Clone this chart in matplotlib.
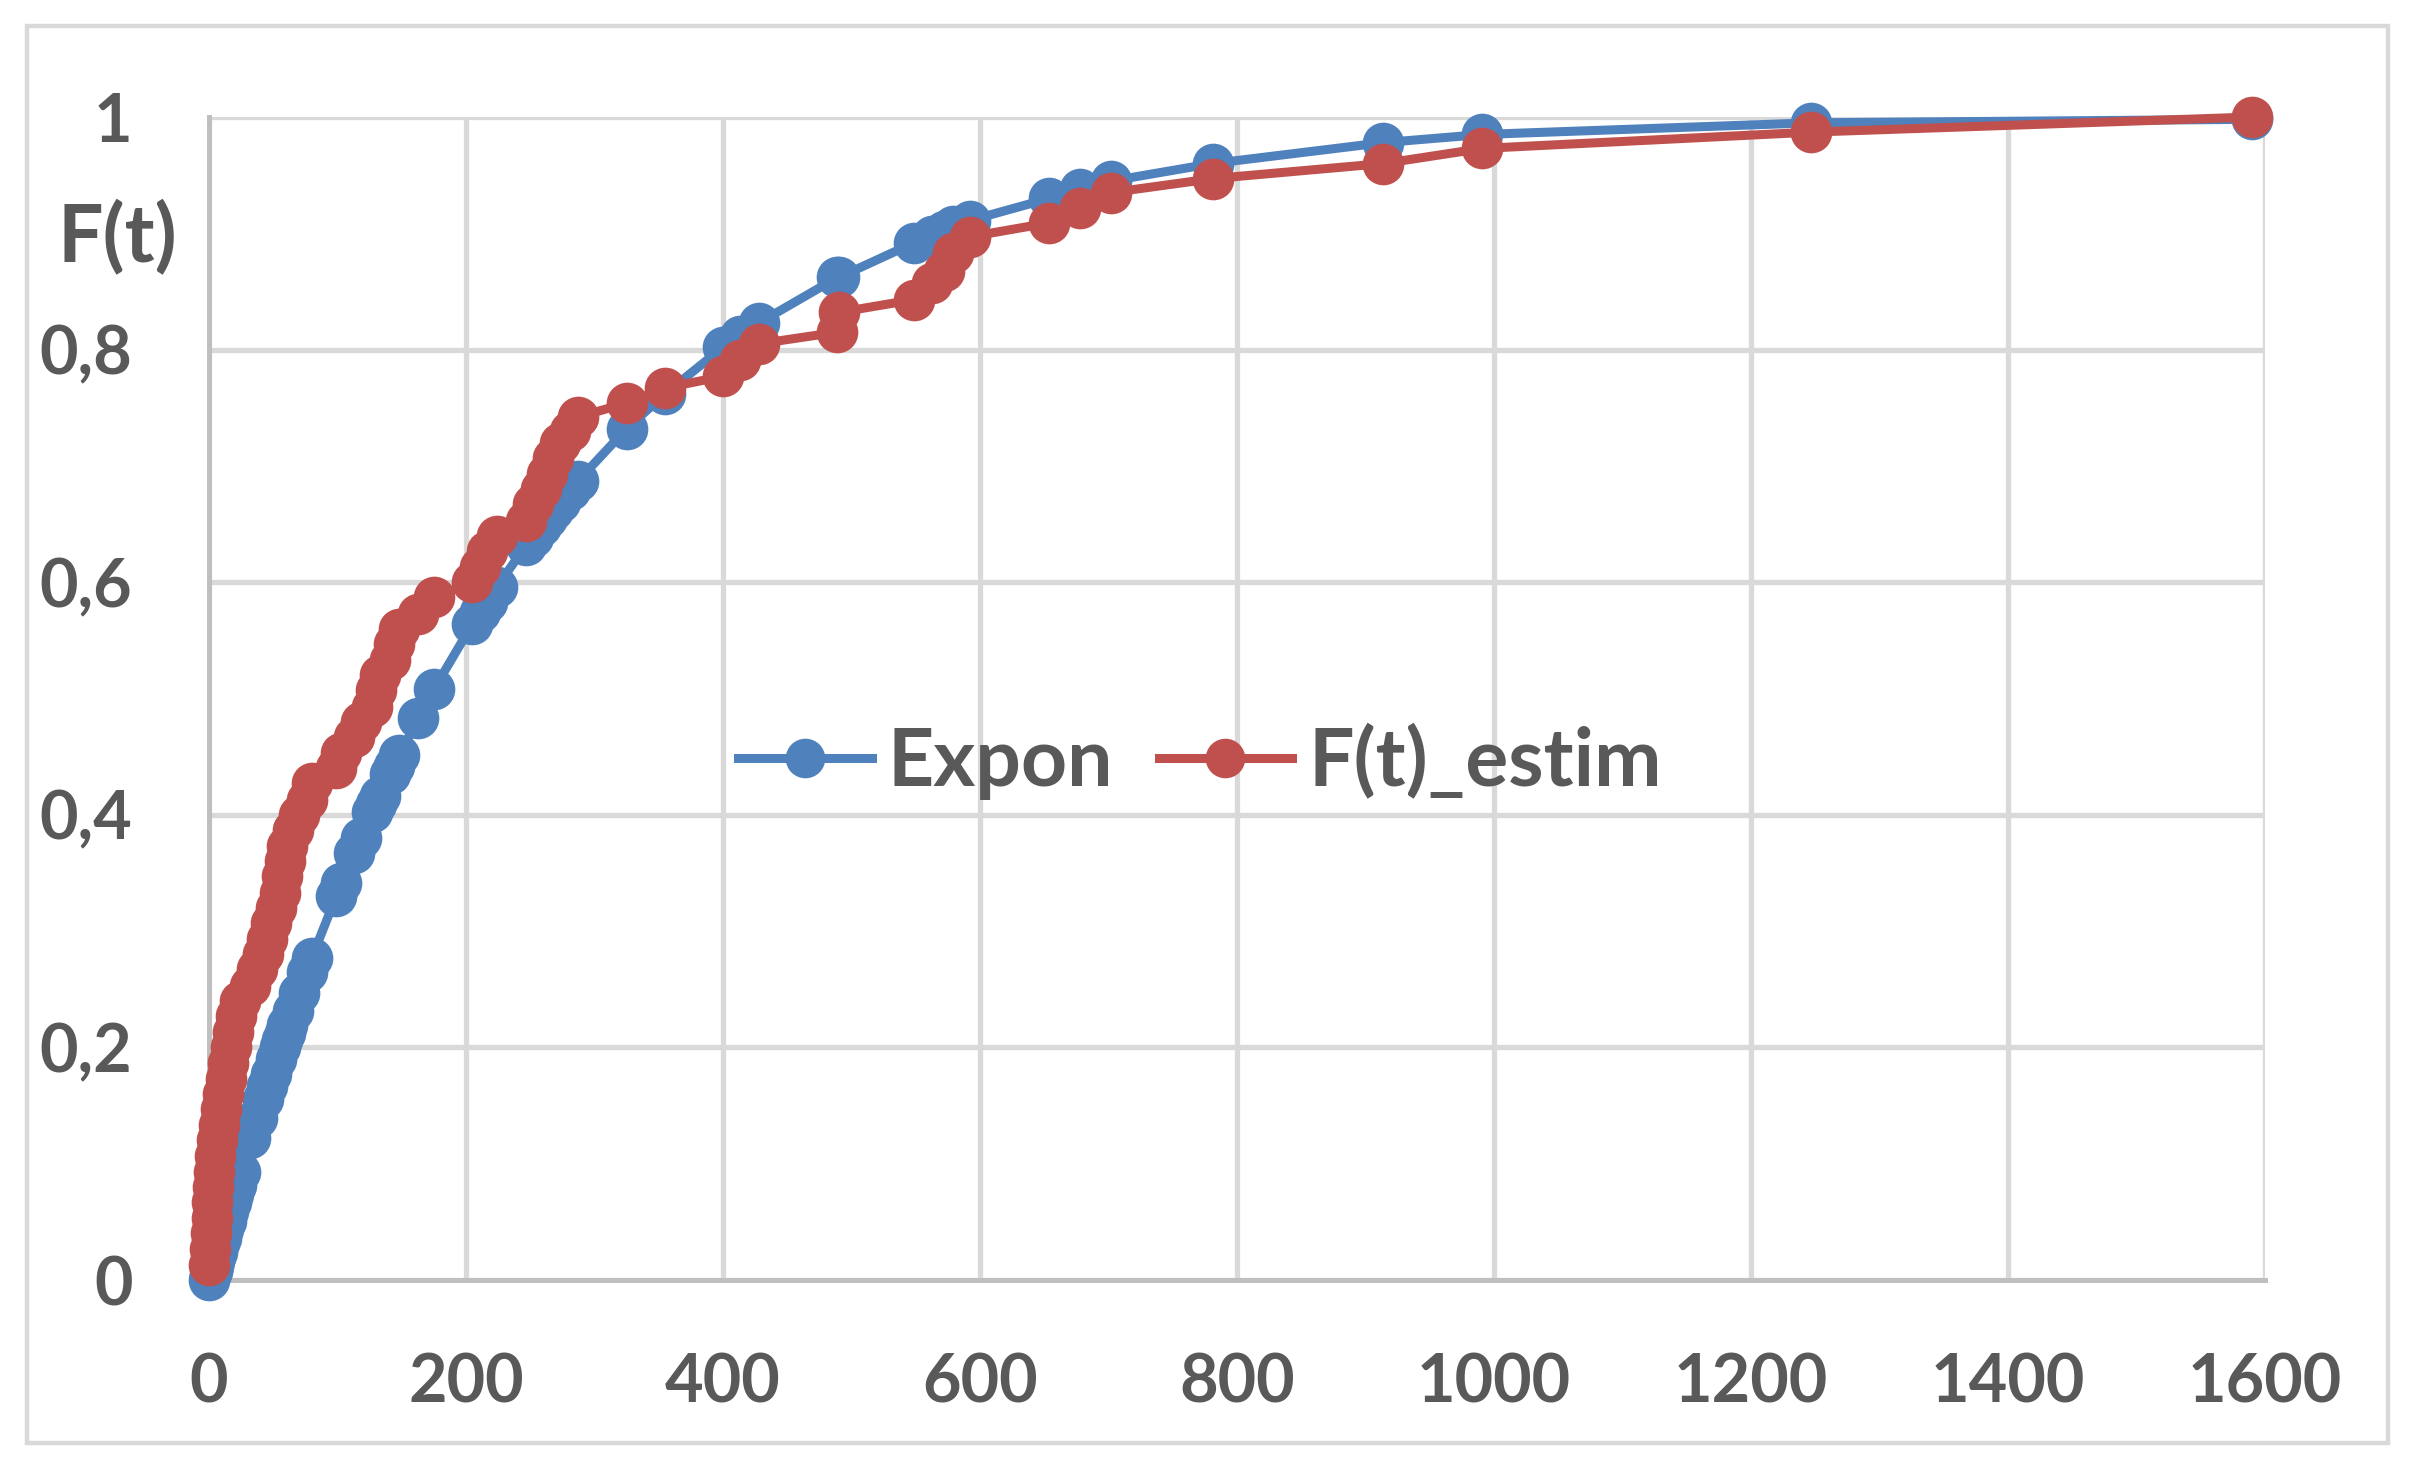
# Packages
# ======================================================
import matplotlib.pyplot as plt
from matplotlib.patches import Rectangle

# Data
# ======================================================
t = [0, 1, 1.5, 2, 2.5, 3, 4, 5, 6, 8,
     9, 11, 13, 15, 17, 19, 21, 24, 32, 37,
     42, 45, 48, 52, 55, 57, 59, 61, 65, 70,
     76, 80, 99, 103, 113, 118, 127, 130, 133, 141,
     144, 148, 163, 175, 205, 211, 216, 224, 247, 252,
     258, 263, 268, 273, 281, 287, 325, 355, 400, 413,
     428, 489, 490, 549, 563, 572, 579, 592, 654, 678,
     702, 781, 914, 991, 1247, 1590]

expon = [0.000, 0.004, 0.006, 0.008, 0.010, 0.012, 0.016, 0.020, 0.024, 0.032,
         0.036, 0.044, 0.051, 0.059, 0.067, 0.074, 0.082, 0.093, 0.122, 0.139,
         0.156, 0.167, 0.177, 0.190, 0.200, 0.206, 0.212, 0.219, 0.231, 0.247,
         0.265, 0.277, 0.330, 0.341, 0.367, 0.380, 0.402, 0.409, 0.416, 0.435,
         0.442, 0.451, 0.483, 0.508, 0.564, 0.574, 0.583, 0.596, 0.632, 0.639,
         0.648, 0.655, 0.662, 0.669, 0.679, 0.687, 0.732, 0.762, 0.802, 0.812,
         0.823, 0.862, 0.862, 0.892, 0.898, 0.902, 0.906, 0.911, 0.930, 0.938,
         0.945, 0.960, 0.978, 0.985, 0.995, 0.998]

f_estim = [0.013, 0.027, 0.040, 0.053, 0.067, 0.080, 0.093, 0.107, 0.120, 0.133,
           0.147, 0.160, 0.173, 0.187, 0.200, 0.213, 0.227, 0.240, 0.253, 0.267,
           0.280, 0.293, 0.307, 0.320, 0.333, 0.347, 0.360, 0.373, 0.387, 0.400,
           0.413, 0.427, 0.440, 0.453, 0.467, 0.480, 0.493, 0.507, 0.520, 0.533,
           0.547, 0.560, 0.573, 0.587, 0.600, 0.613, 0.627, 0.640, 0.653, 0.667,
           0.680, 0.693, 0.707, 0.720, 0.730, 0.742, 0.754, 0.767, 0.777, 0.791,
           0.805, 0.815, 0.832, 0.843, 0.857, 0.868, 0.883, 0.897, 0.909, 0.922,
           0.935, 0.947, 0.960, 0.973, 0.987, 1.000]

X_TICKS = [0, 200, 400, 600, 800, 1000, 1200, 1400, 1600]
Y_TICKS = [0, 0.2, 0.4, 0.6, 0.8, 1]
Y_LABELS = ['0', '0,2', '0,4', '0,6', '0,8', '1']

# Style
# ======================================================
BLUE = '#4F81BD'
RED = '#C0504D'
TEXT = '#595959'
GRID = '#D9D9D9'
AXIS = '#BFBFBF'

plt.rcParams['font.family'] = 'Lato'
plt.rcParams['font.weight'] = 'bold'

W, H = 2409, 1469
fig = plt.figure(figsize=(W / 100, H / 100), dpi=100)

# outer chart border
fig.patches.append(Rectangle((27 / W, 1 - 1443 / H), (2388 - 27) / W, (1443 - 26) / H,
                             transform=fig.transFigure, fill=False,
                             edgecolor=GRID, linewidth=3.2))

ax = fig.add_axes([209 / W, 1 - 1280 / H, (2265 - 209) / W, (1280 - 117) / H])

ax.plot(t, expon, color=BLUE, linewidth=6.5, marker='o', markersize=30,
        markeredgewidth=0, label='Expon', clip_on=False, zorder=3)
ax.plot(t, f_estim, color=RED, linewidth=6.5, marker='o', markersize=30,
        markeredgewidth=0, label='F(t)_estim', clip_on=False, zorder=4)

ax.set_xlim(0, 1600)
ax.set_ylim(0, 1)
ax.set_xticks(X_TICKS)
ax.set_yticks(Y_TICKS)
ax.set_yticklabels(Y_LABELS)
ax.tick_params(axis='both', length=0, labelsize=48, labelcolor=TEXT)
ax.tick_params(axis='x', pad=52)
ax.tick_params(axis='y', pad=55)

ax.grid(True, color=GRID, linewidth=3.8, zorder=0)
ax.set_axisbelow(True)
for side in ['top', 'right']:
    ax.spines[side].set_visible(False)
for side in ['left', 'bottom']:
    ax.spines[side].set_color(AXIS)
    ax.spines[side].set_linewidth(3.6)

# y label placed like the original, horizontal above the ticks
fig.text(117 / W, 1 - 238 / H, 'F(t)', fontsize=58, fontweight='bold',
         color=TEXT, ha='center', va='center')

leg = ax.legend(loc='center', bbox_to_anchor=(1200 / W, 1 - 762 / H),
                bbox_transform=fig.transFigure, ncol=2, frameon=False,
                fontsize=58, handlelength=1.66, handletextpad=0.2,
                columnspacing=0.56, borderpad=0, markerscale=0.95)
for txt in leg.get_texts():
    txt.set_color(TEXT)

fig.savefig('out.png', dpi=100)
plt.close()
